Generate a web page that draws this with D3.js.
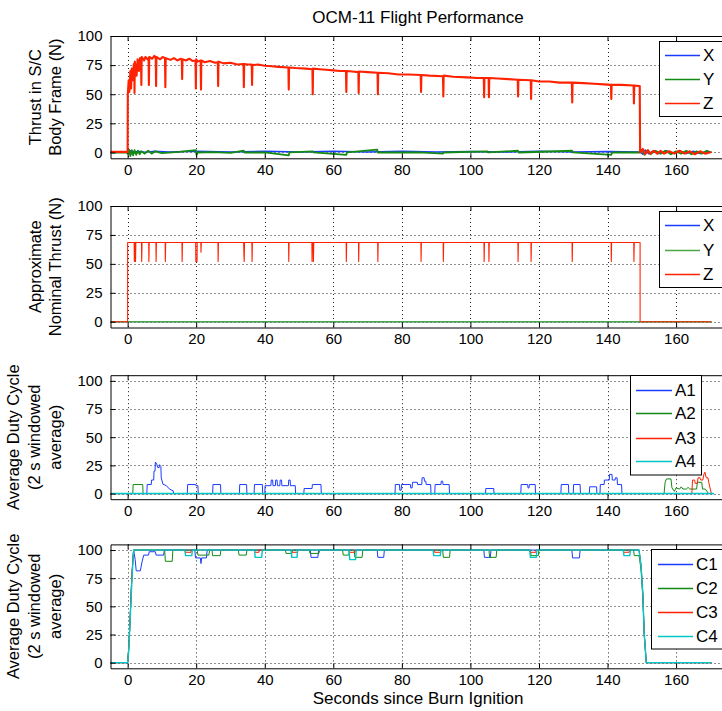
<!DOCTYPE html>
<html lang="en">
<head>
<meta charset="UTF-8">
<title>OCM-11 Flight Performance</title>
<script src="https://cdn.jsdelivr.net/npm/d3@7"></script>
<style>
  body { margin: 0; background: #fff; }
  text { font-family: "Liberation Sans", Arial, sans-serif; fill: #000; }
</style>
</head>
<body>
<div id="container"></div>
<script>
// ---- data (time [s], value) ----
const xTicks = [0, 20, 40, 60, 80, 100, 120, 140, 160];
const yTicks = [0, 25, 50, 75, 100];

const thrustLabels = ["X", "Y", "Z"];
const aLabels = ["A1", "A2", "A3", "A4"];
const cLabels = ["C1", "C2", "C3", "C4"];

// panel 1: measured thrust in body frame
const bodyX = [[-5,0.4],[0,0.6],[1,1.5],[2,0],[3,1],[5,0.3],[8,1],[12,0.4],[20,1],[30,0.5],[40,1],[50,0.4],[60,1],[70,0.5],[80,1],[90,0.5],[100,0.9],[110,0.4],[120,1],[130,0.5],[140,0.9],[149.5,0.5],[150.3,-1.5],[151,2],[152,-1],[153.5,1.5],[155,-1],[157,1.5],[159,-0.5],[161,1.5],[163,-1],[165,1],[167,-1],[169,1],[170.3,0.3]];
const bodyY = [[-5,0],[-0.3,0],[0,-1],[0.4,2.5],[0.8,-3],[1.2,2],[1.6,-2.5],[2,2],[2.5,-2],[3,1.5],[3.5,-1.5],[4,1],[5,-1],[6,1.5],[7,-1],[8,1],[10,-0.5],[15,0.5],[19.9,2],[20.1,-2],[20.4,0],[25,0.3],[30,-0.3],[33.9,1.5],[34.1,0],[40,0],[47,-2.5],[47.2,0],[54,1],[54.2,0],[63.8,-2],[64,0],[72.8,2.5],[73,0],[85,0],[92,-1],[92.2,0],[105,1],[105.2,0],[113.9,1.5],[114.1,0],[129.7,1.5],[129.9,0],[141.1,-2],[141.3,0],[149.5,0],[150.2,2.5],[150.8,-2],[151.5,1.5],[152.5,-1.5],[154,1.5],[155.5,-1],[157,1.5],[158.5,-1.5],[160,1],[161.5,-1],[163,1.5],[164.5,-1.5],[166,1],[167.5,-1],[169,1.5],[170.3,0]];
const bodyZ = [[-5,0.5],[-0.1,0.5],[0,0],[0.05,50],[0.3,62],[0.5,52],[0.8,70],[1.0,55],[1.2,72],[1.5,62],[1.8,76],[1.95,74],[2.0,51],[2.1,78],[2.6,66],[2.9,80],[3.3,70],[3.6,81],[3.9,80],[4.0,58],[4.1,82],[4.8,79],[5.2,82],[5.8,80],[6.1,81],[6.2,58],[6.3,82],[7.2,80.5],[7.8,83],[8.2,81],[8.3,57],[8.4,82],[9.5,80],[10.2,82],[10.9,81],[11,56],[11.1,81],[12.5,79.5],[13.5,81],[14.5,79],[15.5,80.5],[15.8,80],[15.9,63],[16,80],[17,79],[18,80.5],[19,78.5],[19.8,79],[19.9,55],[20,80],[20.4,78],[21.3,79],[21.4,54],[21.5,79],[22.5,77.5],[24,78.5],[25.5,77],[26.3,77.5],[26.4,57],[26.5,78],[28,76.5],[30,77],[32,75.5],[33.8,76],[33.9,56],[34,76],[35,75.5],[36.2,75.5],[36.3,58],[36.4,75],[38,75.5],[40,74.5],[42,74],[44,73.5],[46.9,73],[47,54],[47.1,73],[49,72.5],[52,72],[53.9,71.5],[54,50],[54.1,72],[56,71.5],[58,71],[60,70.5],[62,70],[63.7,70],[63.8,52],[63.9,70],[65.5,69.5],[67.3,69],[67.4,51],[67.5,69.5],[70,69],[72.9,68.5],[73,50],[73.1,68.5],[76,68],[79,67],[82,67],[85.5,66.5],[85.6,52],[85.7,66.5],[88,66],[92,65.5],[92.1,48],[92.2,66],[95,65],[99,64.5],[102,64],[103.9,64],[104,47.5],[104.1,64],[105.3,64],[105.4,47.5],[105.5,64],[108,63.5],[111,63],[113.8,62.5],[113.9,48],[114,62.5],[117.6,62],[117.7,46],[117.8,62],[120,61],[123,61],[126,60],[129.6,60],[129.7,43],[129.8,60],[133,59.5],[136,59],[139,58.5],[141,58],[141.1,46],[141.2,58],[144,58],[147.6,57.5],[147.7,42],[147.8,57.5],[149.4,57],[149.5,0],[150.3,3],[151,-1.5],[151.8,2],[152.5,-1],[153.5,1.5],[154.5,-1],[155.5,1.5],[156.5,-1],[158,1],[159.5,-1],[161,1.5],[162.5,-1],[164,1],[165.5,-1.5],[167,1],[168.5,-1],[170.3,0.5]];

// panel 2: approximate nominal thrust
const nomX = [[-5,0],[170.3,0]];
const nomY = [[-5,0],[170.3,0]];
const nomZ = [[-5,0],[0,0],[0,68.5],[1.9,68.5],[1.95,52],[2.05,68.5],[2.25,68.5],[2.3,52],[2.4,68.5],[4.05,68.5],[4.1,52],[4.2,68.5],[6.15,68.5],[6.2,52],[6.3,68.5],[8.25,68.5],[8.3,52],[8.4,68.5],[10.95,68.5],[11,52],[11.1,68.5],[15.85,68.5],[15.9,52],[16,68.5],[19.85,68.5],[19.9,52],[20.25,52],[20.3,68.5],[21.35,68.5],[21.4,60],[21.5,68.5],[26.35,68.5],[26.4,52],[26.5,68.5],[33.85,68.5],[33.9,60],[34,52],[34.1,68.5],[36.25,68.5],[36.3,52],[36.4,68.5],[46.95,68.5],[47,52],[47.1,68.5],[53.75,68.5],[53.8,52],[53.9,68.5],[54.15,68.5],[54.2,52],[54.3,68.5],[63.75,68.5],[63.8,52],[63.9,68.5],[67.35,68.5],[67.4,52],[67.5,68.5],[72.95,68.5],[73,52],[73.1,68.5],[85.55,68.5],[85.6,52],[85.7,68.5],[92.05,68.5],[92.1,52],[92.2,68.5],[103.95,68.5],[104,52],[104.1,68.5],[105.35,68.5],[105.4,52],[105.5,68.5],[113.85,68.5],[113.9,52],[114,68.5],[117.65,68.5],[117.7,52],[117.8,68.5],[129.65,68.5],[129.7,52],[129.8,68.5],[141.05,68.5],[141.1,52],[141.2,68.5],[147.65,68.5],[147.7,52],[147.8,68.5],[149.5,68.5],[149.5,0],[170.3,0]];

// panel 3: A thrusters duty cycle (%)
const dutyA1 = [[-5,0],[5.6,0],[5.7,8],[6.9,8],[6.95,12],[7.6,12],[7.7,20],[8.0,20],[8.1,28],[8.5,26],[8.8,23],[9.2,23],[9.3,25.6],[9.7,24],[9.8,14],[10.3,8.3],[11.3,7],[12.2,4],[13.3,2.4],[13.4,0],[17.4,0],[17.5,8],[19.8,8],[19.9,7],[20.5,7],[20.6,0],[24.8,0],[24.9,8],[27.1,8],[27.2,0],[32.6,0],[32.7,8],[34.7,8],[34.8,0],[36.9,0],[37,8],[39.3,8],[39.4,0],[40,0],[40.1,7],[41.8,7],[41.9,12],[42.3,12],[42.4,7],[43.1,7],[43.2,12],[43.6,12],[43.7,7],[44.4,7],[44.5,12],[44.9,12],[45,7],[46.9,7],[47,12],[47.4,12],[47.5,7],[48.9,7],[49,0],[51.4,0],[51.5,4.5],[53.8,4.5],[53.9,8],[56.4,8],[56.5,0],[78,0],[78.1,8],[79.3,8],[79.4,3],[79.8,3],[79.9,8],[82.5,8],[82.6,5],[83,5],[83.1,10],[84.5,10],[84.6,8],[85.8,8],[85.9,14],[86.5,14],[86.6,11],[87,11],[87.1,8],[88.4,8],[88.5,0],[89.6,0],[89.7,8],[91.4,8],[91.5,11],[91.9,11],[92,8],[93.8,8],[93.9,0],[104.4,0],[104.5,4.5],[106.8,4.5],[106.9,0],[114.7,0],[114.8,8],[116.7,8],[116.8,5],[117.1,5],[117.2,8],[118.9,8],[119,0],[126.4,0],[126.5,8],[128.6,8],[128.7,0],[130,0],[130.1,8],[132,8],[132.1,0],[134.7,0],[134.8,6],[136.8,6],[136.9,0],[137.8,0],[137.9,8],[139,8],[139.1,12],[140.5,12],[140.6,17],[141.3,17],[141.4,12],[142.2,12],[142.3,14],[142.8,14],[142.9,8],[144.1,8],[144.2,0],[171,0]];
const dutyA2 = [[-5,0],[1.5,0],[1.6,8],[4.4,8],[4.5,0],[156.5,0],[156.8,10],[157.2,13],[158.5,13],[158.8,5],[159.5,2],[160,5],[161,4],[161.5,6],[162,4],[163,4],[163.5,5.5],[164,4],[166,4],[166.2,10],[167.5,10],[167.7,4],[168.5,4],[169.5,0],[171,0]];
const dutyA3 = [[-5,0],[164.6,0],[164.8,12],[165.4,12],[165.6,9],[166.2,9],[166.4,14],[167,14],[167.2,12],[167.8,12],[168.1,17],[168.4,19],[168.8,14],[169.3,14],[169.6,9],[170.3,0],[171,0]];
const dutyA4 = [[-5,0],[171,0]];

// panel 4: C thrusters duty cycle (%)
const dutyC1 = [[-5,0],[0,0],[0.3,12],[0.6,30],[0.9,52],[1.2,75],[1.5,90],[1.75,100],[2.2,91.5],[2.5,81.5],[3.7,81.5],[4.2,89.5],[4.7,95.5],[6.1,95.5],[6.3,98.5],[8.1,98.5],[8.3,95.5],[10.5,95.5],[10.7,100],[19.6,100],[19.8,93],[21.2,93],[21.4,88],[21.6,93],[23,93],[23.2,100],[53.3,100],[53.5,93.5],[55.5,93.5],[55.7,100],[72.8,100],[73,93.5],[74.7,93.5],[74.9,100],[103.9,100],[104.1,93.5],[105.8,93.5],[106,100],[129.6,100],[129.8,93],[131.8,93],[132,100],[149.2,100],[149.8,85],[150.3,61],[150.7,26],[151.3,0],[170.3,0]];
const dutyC2 = [[-5,0],[0,0],[0.3,12],[0.6,30],[0.9,52],[1.2,75],[1.5,90],[1.75,100],[10.8,100],[11,90],[13,90],[13.2,100],[20.3,100],[20.5,95.5],[23.7,95.5],[23.9,100],[24.6,100],[24.8,95],[27,95],[27.2,100],[32.3,100],[32.5,95.5],[34.6,95.5],[34.8,100],[46,100],[46.2,97],[47.9,97],[48.1,100],[53,100],[53.2,97],[55.8,97],[56,100],[62.7,100],[62.9,95.5],[64.5,95.5],[64.7,100],[66.1,100],[66.3,93.5],[68.4,93.5],[68.6,100],[91.9,100],[92.1,93.5],[93.9,93.5],[94.1,100],[105.4,100],[105.6,93.5],[107.5,93.5],[107.7,100],[117.5,100],[117.7,95],[119.8,95],[120,100],[147.6,100],[147.8,95],[149.2,95],[149.8,82],[150.3,58],[150.7,25],[151.3,0],[170.3,0]];
const dutyC3 = [[-5,0],[0,0],[0.3,12],[0.6,30],[0.9,52],[1.2,75],[1.5,90],[1.75,100],[16.7,100],[16.8,98],[18.5,98],[18.6,100],[37,100],[37.1,98],[38.3,98],[38.4,100],[47.7,100],[47.8,98],[49.5,98],[49.6,100],[64.6,100],[64.7,98],[66.3,98],[66.4,100],[89.4,100],[89.5,98],[91.3,98],[91.4,100],[117.3,100],[117.4,98],[119.1,98],[119.2,100],[144.6,100],[144.7,98],[146.3,98],[146.4,100],[149.2,100],[149.8,85],[150.3,61],[150.7,26],[151.3,0],[170.3,0]];
const dutyC4 = [[-5,0],[0,0],[0.3,10],[0.55,26],[0.9,50],[1.3,76],[1.75,100],[16.7,100],[16.9,95],[18.7,95],[18.9,100],[37,100],[37.2,93.5],[39.1,93.5],[39.3,100],[47.7,100],[47.9,93.5],[49.4,93.5],[49.6,100],[64.6,100],[64.8,91.5],[66.5,91.5],[66.7,100],[89.1,100],[89.3,95],[91.2,95],[91.4,100],[117.3,100],[117.5,93.5],[119.2,93.5],[119.4,100],[144.6,100],[144.8,95],[146.5,95],[146.7,100],[149.2,100],[149.8,85],[150.3,61],[150.7,26],[151.3,0],[170.3,0]];

// ---- layout ----
const W = 722, H = 711;
const colors = { b: "#1a3cff", g: "#138a13", r: "#ff2200", c: "#00c8c8" };

const svg = d3.select("#container").append("svg")
  .attr("width", W).attr("height", H)
  .style("display", "block");

const x = d3.scaleLinear().domain([-5, 175]).range([110.5, 727.5]);

const panels = [
  { top: 36, bottom: 158.3, dom: [-5, 100],
    ylab: ["Thrust in S/C", "Body Frame (N)"], labX: [41, 61],
    series: [[bodyX, colors.b, 1.5], [bodyY, colors.g, 1.8], [bodyZ, colors.r, 2.1]],
    legend: { labels: thrustLabels, cols: [colors.b, colors.g, colors.r], x: 659.5, y: 41.5, w: 80, h: 75, rows: [55, 78.5, 102.5], l0: 665, l1: 700, tx: 703 } },
  { top: 206, bottom: 327.5, dom: [-5, 100],
    ylab: ["Approximate", "Nominal Thrust (N)"], labX: [41, 61],
    series: [[nomX, colors.b, 1], [nomY, "#4aa84a", 1.6], [nomZ, colors.r, 1.1]],
    legend: { labels: thrustLabels, cols: [colors.b, "#4aa84a", colors.r], x: 659.5, y: 211.5, w: 80, h: 76, rows: [225, 249.5, 274], l0: 665, l1: 700, tx: 703 } },
  { top: 375.2, bottom: 499.2, dom: [-5, 105],
    ylab: ["Average Duty Cycle", "(2 s windowed", "average)"], labX: [19, 40, 61],
    series: [[dutyA1, colors.b, 1], [dutyA2, colors.g, 1], [dutyA3, colors.r, 1], [dutyA4, colors.c, 1.4]],
    legend: { labels: aLabels, cols: [colors.b, colors.g, colors.r, colors.c], x: 630.5, y: 375.5, w: 71, h: 99.5, rows: [389.5, 413, 437.5, 461], l0: 636, l1: 672, tx: 675 } },
  { top: 544.4, bottom: 668.3, dom: [-5, 105],
    ylab: ["Average Duty Cycle", "(2 s windowed", "average)"], labX: [19, 40, 61],
    series: [[dutyC1, colors.b, 1], [dutyC2, colors.g, 1], [dutyC3, colors.r, 1], [dutyC4, colors.c, 1.4]],
    legend: { labels: cLabels, cols: [colors.b, colors.g, colors.r, colors.c], x: 651.5, y: 549.5, w: 80, h: 99.5, rows: [563.5, 587.5, 612, 636], l0: 658, l1: 693, tx: 696 } }
];

// title
svg.append("text")
  .attr("x", 418).attr("y", 23)
  .attr("text-anchor", "middle")
  .style("font-size", "17px")
  .text("OCM-11 Flight Performance");

panels.forEach((p, i) => {
  const y = d3.scaleLinear().domain(p.dom).range([p.bottom, p.top]);
  const g = svg.append("g");
  const clipId = "clip" + i;
  svg.append("clipPath").attr("id", clipId)
    .append("rect")
    .attr("x", x.range()[0]).attr("y", p.top)
    .attr("width", x.range()[1] - x.range()[0]).attr("height", p.bottom - p.top);

  // dotted grid
  g.selectAll(".vg").data(xTicks).enter().append("line")
    .attr("x1", d => Math.round(x(d)) + 0.5).attr("x2", d => Math.round(x(d)) + 0.5)
    .attr("y1", p.top).attr("y2", p.bottom)
    .attr("stroke", "#222").attr("stroke-width", 1).attr("stroke-dasharray", "1,3");
  g.selectAll(".hg").data(yTicks).enter().append("line")
    .attr("x1", x.range()[0]).attr("x2", W)
    .attr("y1", d => Math.round(y(d)) + 0.5).attr("y2", d => Math.round(y(d)) + 0.5)
    .attr("stroke", "#222").attr("stroke-width", 1).attr("stroke-dasharray", "1,3");

  // data lines
  const line = d3.line().x(d => x(d[0])).y(d => y(d[1]));
  const lg = g.append("g").attr("clip-path", "url(#" + clipId + ")");
  p.series.forEach(s => {
    lg.append("path")
      .datum(s[0])
      .attr("d", line)
      .attr("fill", "none")
      .attr("stroke", s[1])
      .attr("stroke-width", s[2])
      .attr("stroke-linejoin", "round");
  });

  // axes (ticks inward)
  const bottomAxis = d3.axisBottom(x).tickValues(xTicks).tickSizeInner(-5).tickSizeOuter(0).tickPadding(6);
  const topAxis = d3.axisTop(x).tickValues(xTicks).tickSizeInner(-5).tickSizeOuter(0).tickFormat("");
  const leftAxis = d3.axisLeft(y).tickValues(yTicks).tickSizeInner(-5).tickSizeOuter(0).tickPadding(8);

  [[bottomAxis, "translate(0," + p.bottom + ")"], [topAxis, "translate(0," + p.top + ")"], [leftAxis, "translate(" + x.range()[0] + ",0)"]]
    .forEach(a => {
      const ax = g.append("g").attr("transform", a[1]).call(a[0]);
      ax.select(".domain").attr("stroke", "#000");
      ax.selectAll("line").attr("stroke", "#000");
      ax.selectAll("text").style("font-size", "15px").style("font-family", "Liberation Sans, Arial, sans-serif").attr("fill", "#000");
    });

  // y labels
  const cy = (p.top + p.bottom) / 2;
  p.ylab.forEach((t, k) => {
    svg.append("text")
      .attr("transform", "translate(" + p.labX[k] + "," + cy + ") rotate(-90)")
      .attr("text-anchor", "middle")
      .style("font-size", "16.5px")
      .text(t);
  });

  // legend
  const L = p.legend;
  const lgd = svg.append("g");
  lgd.append("rect")
    .attr("x", L.x).attr("y", L.y).attr("width", L.w).attr("height", L.h)
    .attr("fill", "#fff").attr("stroke", "#000");
  L.labels.forEach((lab, k) => {
    lgd.append("line")
      .attr("x1", L.l0).attr("x2", L.l1)
      .attr("y1", Math.round(L.rows[k]) + 0.5).attr("y2", Math.round(L.rows[k]) + 0.5)
      .style("stroke", L.cols[k]).style("stroke-width", 1.5);
    lgd.append("text")
      .attr("x", L.tx).attr("y", L.rows[k] + 6)
      .style("font-size", "17px")
      .text(lab);
  });
});

// x label
svg.append("text")
  .attr("x", 418).attr("y", 704)
  .attr("text-anchor", "middle")
  .style("font-size", "17px")
  .text("Seconds since Burn Ignition");
</script>
</body>
</html>
